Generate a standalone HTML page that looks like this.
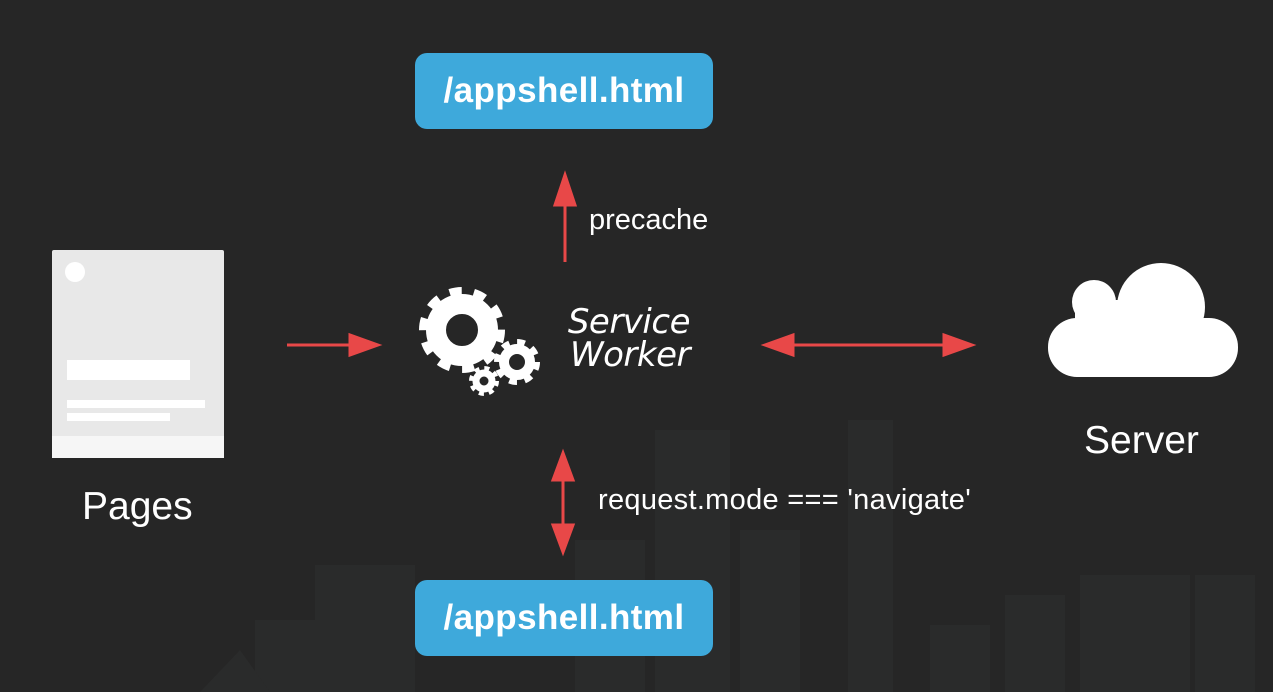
<!DOCTYPE html>
<html><head><style>
body{margin:0;width:1273px;height:692px;background:#262626;overflow:hidden;position:relative;font-family:"Liberation Sans",sans-serif}
.box{position:absolute;left:415px;width:298px;height:76px;background:#3ea9db;border-radius:12px;color:#fff;font-weight:bold;font-size:35px;text-align:center;line-height:76px;letter-spacing:0.4px}
.t{position:absolute;color:#fff;white-space:nowrap}
</style></head><body>
<svg width="1273" height="692" style="position:absolute;left:0;top:0">
 <g fill="#2a2b2b">
  <rect x="655" y="430" width="75" height="262"/>
  <rect x="848" y="420" width="45" height="272"/>
  <rect x="740" y="530" width="60" height="162"/>
  <rect x="575" y="540" width="70" height="152"/>
  <rect x="315" y="565" width="100" height="127"/>
  <rect x="255" y="620" width="60" height="72"/>
  <rect x="1005" y="595" width="60" height="97"/>
  <rect x="1080" y="575" width="60" height="117"/>
  <rect x="1135" y="575" width="55" height="117"/>
  <rect x="1195" y="575" width="60" height="117"/>
  <rect x="930" y="625" width="60" height="67"/>
  <rect x="1115" y="645" width="60" height="47"/>
  <polygon points="200,692 240,650 270,692"/>
 </g>
 <rect x="52" y="250" width="172" height="208" rx="2" fill="#e8e8e8"/>
 <rect x="52" y="436" width="172" height="22" fill="#f6f6f6"/>
 <circle cx="75" cy="272" r="10" fill="#fff"/>
 <rect x="67" y="360" width="123" height="20" fill="#fff"/>
 <rect x="67" y="400" width="138" height="8" fill="#fff"/>
 <rect x="67" y="413" width="103" height="8" fill="#fff"/>
 <g fill="#fff">
  <circle cx="1094" cy="302" r="22"/>
  <circle cx="1161" cy="307" r="44"/>
  <rect x="1048" y="318" width="190" height="59" rx="29"/>
  <rect x="1075" y="300" width="110" height="30"/>
 </g>
 <g fill="none" stroke="#fff">
  <circle cx="462" cy="330" r="26" stroke-width="20"/>
  <circle cx="462" cy="330" r="38" stroke-width="10" stroke-dasharray="11.9 11.9"/>
  <circle cx="517" cy="362" r="13" stroke-width="10"/>
  <circle cx="517" cy="362" r="20" stroke-width="6" stroke-dasharray="7.85 7.85"/>
  <circle cx="484" cy="381" r="8" stroke-width="7"/>
  <circle cx="484" cy="381" r="13" stroke-width="4" stroke-dasharray="5.1 5.1"/>
 </g>
 <g stroke="#e84848" stroke-width="3" fill="#e84848">
  <line x1="565" y1="262" x2="565" y2="195"/>
  <polygon points="565,175 555,205 575,205"/>
  <line x1="287" y1="345" x2="360" y2="345"/>
  <polygon points="378,345 350,335 350,355"/>
  <line x1="780" y1="345" x2="958" y2="345"/>
  <polygon points="765,345 793,335 793,355"/>
  <polygon points="972,345 944,335 944,355"/>
  <line x1="563" y1="470" x2="563" y2="535"/>
  <polygon points="563,453 553,480 573,480"/>
  <polygon points="563,552 553,525 573,525"/>
 </g>
</svg>
<div class="box" style="top:53px">/appshell.html</div>
<div class="box" style="top:580px">/appshell.html</div>
<div class="t" style="left:589px;top:204px;font-size:29px;letter-spacing:0px">precache</div>
<div class="t" style="left:598px;top:484px;font-size:29px;letter-spacing:0.3px">request.mode === 'navigate'</div>
<div class="t" style="left:82px;top:485px;font-size:39px">Pages</div>
<div class="t" style="left:1084px;top:419px;font-size:39px">Server</div>
<div class="t" style="left:555px;top:306px;font-size:34px;line-height:33px;font-style:italic;font-family:'DejaVu Sans',sans-serif;text-align:right;width:135px;letter-spacing:-0.5px">Service<br>Worker</div>
</body></html>
